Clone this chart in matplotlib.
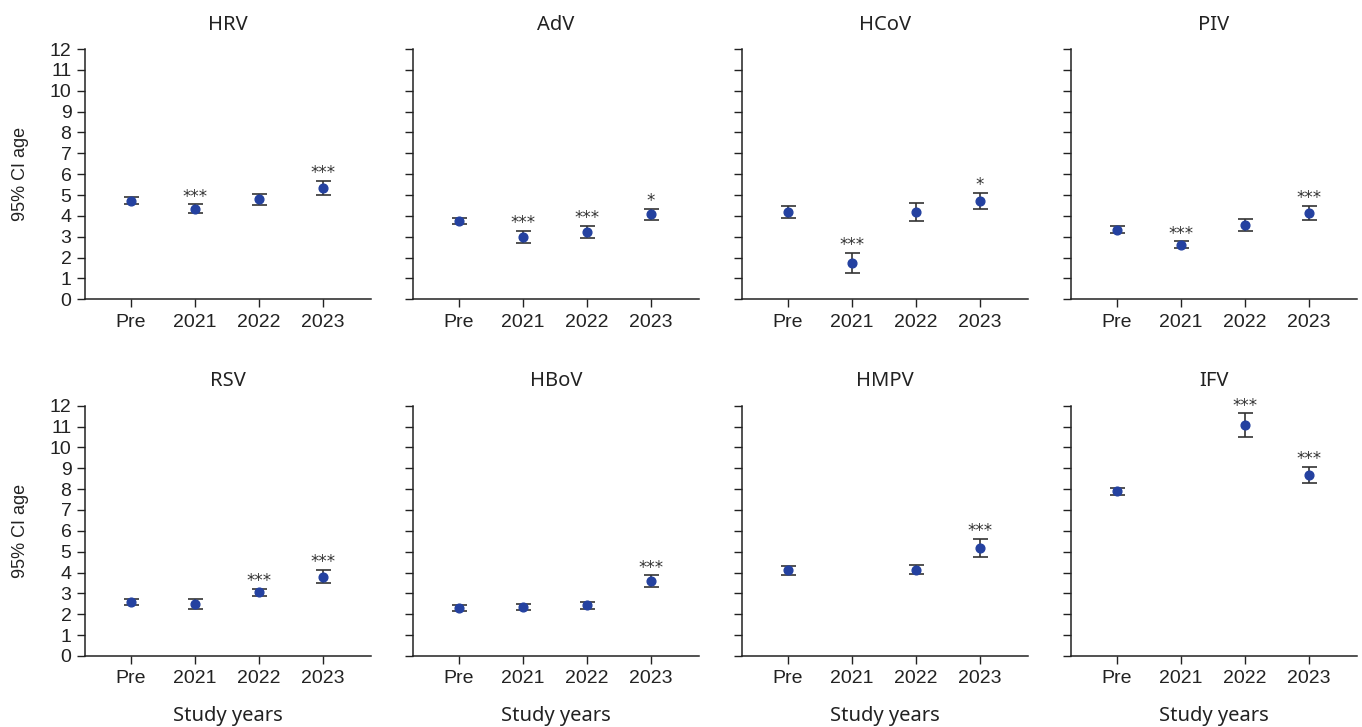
import matplotlib
matplotlib.use("Agg")
import matplotlib.pyplot as plt
import numpy as np

viruses = ["HRV", "AdV", "HCoV", "PIV", "RSV", "HBoV", "HMPV", "IFV"]
years = ["Pre", "2021", "2022", "2023"]

# mean age, lower CI, upper CI (None = no data)
HRV_mean = [4.73, 4.31, 4.79, 5.34]
HRV_low = [4.57, 4.14, 4.54, 5.00]
HRV_high = [4.92, 4.55, 5.05, 5.67]
HRV_sig = ["", "***", "", "***"]

AdV_mean = [3.77, 2.99, 3.23, 4.07]
AdV_low = [3.61, 2.70, 2.94, 3.80]
AdV_high = [3.91, 3.29, 3.51, 4.35]
AdV_sig = ["", "***", "***", "*"]

HCoV_mean = [4.17, 1.73, 4.19, 4.71]
HCoV_low = [3.88, 1.26, 3.77, 4.31]
HCoV_high = [4.46, 2.22, 4.60, 5.11]
HCoV_sig = ["", "***", "", "*"]

PIV_mean = [3.34, 2.60, 3.58, 4.14]
PIV_low = [3.16, 2.44, 3.29, 3.79]
PIV_high = [3.51, 2.78, 3.85, 4.49]
PIV_sig = ["", "***", "", "***"]

RSV_mean = [2.59, 2.51, 3.05, 3.79]
RSV_low = [2.43, 2.25, 2.88, 3.50]
RSV_high = [2.75, 2.75, 3.23, 4.11]
RSV_sig = ["", "", "***", "***"]

HBoV_mean = [2.29, 2.35, 2.43, 3.60]
HBoV_low = [2.14, 2.19, 2.25, 3.31]
HBoV_high = [2.43, 2.51, 2.60, 3.87]
HBoV_sig = ["", "", "", "***"]

HMPV_mean = [4.11, None, 4.14, 5.18]
HMPV_low = [3.88, None, 3.93, 4.73]
HMPV_high = [4.33, None, 4.38, 5.62]
HMPV_sig = ["", "", "", "***"]

IFV_mean = [7.89, None, 11.07, 8.67]
IFV_low = [7.72, None, 10.48, 8.28]
IFV_high = [8.07, None, 11.63, 9.06]
IFV_sig = ["", "", "***", "***"]

data = {
    "HRV": (HRV_mean, HRV_low, HRV_high, HRV_sig),
    "AdV": (AdV_mean, AdV_low, AdV_high, AdV_sig),
    "HCoV": (HCoV_mean, HCoV_low, HCoV_high, HCoV_sig),
    "PIV": (PIV_mean, PIV_low, PIV_high, PIV_sig),
    "RSV": (RSV_mean, RSV_low, RSV_high, RSV_sig),
    "HBoV": (HBoV_mean, HBoV_low, HBoV_high, HBoV_sig),
    "HMPV": (HMPV_mean, HMPV_low, HMPV_high, HMPV_sig),
    "IFV": (IFV_mean, IFV_low, IFV_high, IFV_sig),
}

W, H = 1362, 727
fig = plt.figure(figsize=(W / 100, H / 100), dpi=100)

col_left = [85, 413, 742, 1071]
ax_w = 286
row_bottom = [299.3, 656]
ax_h = 250.3

tick_font = "Liberation Sans"
label_font = "Noto Sans"
dark = "#222222"
blue = "#2441a0"

for i, v in enumerate(viruses):
    r, c = divmod(i, 4)
    left = col_left[c] / W
    bottom = 1 - row_bottom[r] / H
    ax = fig.add_axes([left, bottom, ax_w / W, ax_h / H])
    mean, low, high, sig = data[v]
    xs = [j for j in range(4) if mean[j] is not None]
    m = np.array([mean[j] for j in xs])
    lo = np.array([low[j] for j in xs])
    hi = np.array([high[j] for j in xs])
    ax.errorbar(xs, m, yerr=[m - lo, hi - m], fmt="o", color=blue,
                ms=6.3, ecolor="#333333", elinewidth=1.2, capsize=5.4,
                capthick=1.2, zorder=3)
    for j in range(4):
        if sig[j]:
            ax.annotate(sig[j], (j, high[j]), xytext=(0, 2.0),
                        textcoords="offset points", ha="center",
                        va="baseline", fontsize=12, color="#333333",
                        family="DejaVu Sans")
    ax.set_xlim(-0.72, 3.75)
    ax.set_ylim(0, 12)
    ax.set_xticks(range(4))
    ax.set_xticklabels(years, family=tick_font, fontsize=14, color=dark)
    ax.set_yticks(range(13))
    if c == 0:
        ax.set_yticklabels([str(k) for k in range(13)], family=tick_font,
                           fontsize=14, color=dark)
        ax.set_ylabel("95% CI age", family=tick_font, fontsize=13,
                      color=dark, labelpad=15)
    else:
        ax.set_yticklabels([])
    for s in ["top", "right"]:
        ax.spines[s].set_visible(False)
    for s in ["left", "bottom"]:
        ax.spines[s].set_linewidth(1.1)
        ax.spines[s].set_color(dark)
    ax.tick_params(axis="both", length=5.8, width=1.0, color=dark)
    ax.tick_params(axis="y", pad=4.0)
    ax.tick_params(axis="x", pad=4.5)
    ax.set_title(v, family=label_font, fontsize=14.5, color=dark, pad=14,
                 x=0.5)
    if r == 1:
        ax.set_xlabel("Study years", family=label_font, fontsize=14.5,
                      color=dark, labelpad=13.5)

fig.savefig("out.png", dpi=100)
